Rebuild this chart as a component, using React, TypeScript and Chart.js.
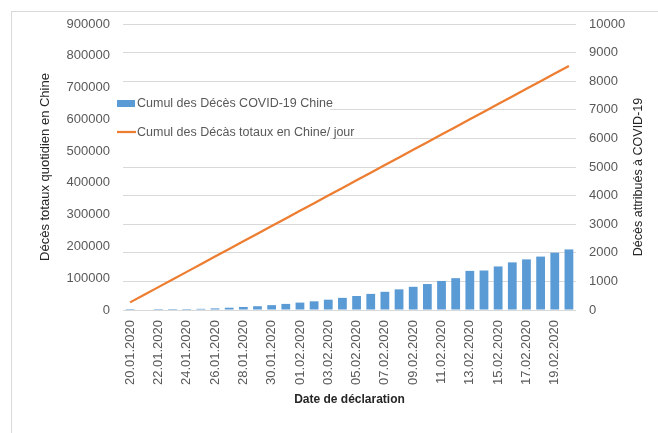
import React, { useEffect, useRef } from 'react';
import { Chart, registerables } from 'chart.js';

Chart.register(...registerables);

const dates: string[] = [
  '20.01.2020', '21.01.2020', '22.01.2020', '23.01.2020', '24.01.2020', '25.01.2020',
  '26.01.2020', '27.01.2020', '28.01.2020', '29.01.2020', '30.01.2020', '31.01.2020',
  '01.02.2020', '02.02.2020', '03.02.2020', '04.02.2020', '05.02.2020', '06.02.2020',
  '07.02.2020', '08.02.2020', '09.02.2020', '10.02.2020', '11.02.2020', '12.02.2020',
  '13.02.2020', '14.02.2020', '15.02.2020', '16.02.2020', '17.02.2020', '18.02.2020',
  '19.02.2020', '20.02.2020',
];

const covidDeaths: (number | null)[] = [
  4, null, 9, 17, 25, 41, 56, 80, 106, 132, 170, 213, 259, 304, 361, 425,
  490, 563, 636, 722, 811, 908, 1016, 1113, 1368, 1381, 1523, 1665, 1770, 1868, 2004, 2118,
];

const totalDeaths: number[] = [
  24000, 48000, 72000, 96000, 120000, 144000, 168000, 192000, 216000, 240000, 264000,
  288000, 312000, 336000, 360000, 384000, 408000, 432000, 456000, 480000, 504000,
  528000, 552000, 576000, 600000, 624000, 648000, 672000, 696000, 720000, 744000, 768000,
];

const barLabel = 'Cumul des Décès COVID-19 Chine';
const lineLabel = 'Cumul des Décàs totaux en Chine/ jour';
const leftTitle = 'Décès totaux quotidien en Chine';
const rightTitle = 'Décès attribués à COVID-19';
const xTitle = 'Date de déclaration';

const FONT = "'Liberation Sans', Arial, sans-serif";
const TICK = '#595959';
const TITLE = '#262626';

const legendPlugin = {
  id: 'insideLegend',
  beforeDatasetsDraw(chart: any) {
    const { ctx } = chart;
    ctx.save();
    ctx.fillStyle = '#ffffff';
    ctx.fillRect(115, 91, 215, 54);
    const ds = chart.data.datasets;
    ctx.font = `12.5px ${FONT}`;
    ctx.textBaseline = 'middle';
    ctx.textAlign = 'left';
    ctx.fillStyle = ds[0].backgroundColor;
    ctx.fillRect(117, 100, 18, 7);
    ctx.fillStyle = TICK;
    ctx.fillText(ds[0].label, 137, 104);
    ctx.strokeStyle = ds[1].borderColor;
    ctx.lineWidth = 2.25;
    ctx.beginPath();
    ctx.moveTo(117, 132);
    ctx.lineTo(136, 132);
    ctx.stroke();
    ctx.fillStyle = TICK;
    ctx.fillText(ds[1].label, 137, 133);
    ctx.restore();
  },
};

const rightTitlePlugin = {
  id: 'rightTitle',
  afterDraw(chart: any) {
    const s = chart.scales.y1;
    const { ctx } = chart;
    ctx.save();
    ctx.translate(s.right - 10, (s.top + s.bottom) / 2 + 10);
    ctx.rotate(-Math.PI / 2);
    ctx.font = `12.5px ${FONT}`;
    ctx.fillStyle = TITLE;
    ctx.textAlign = 'center';
    ctx.textBaseline = 'middle';
    ctx.fillText(rightTitle, 0, 0);
    ctx.restore();
  },
};

const plain = (v: any) => String(v);

export default function App() {
  const ref = useRef<HTMLCanvasElement>(null);

  useEffect(() => {
    if (!ref.current) return;
    const chart = new Chart(ref.current, {
      type: 'bar',
      data: {
        labels: dates,
        datasets: [
          {
            type: 'bar',
            label: barLabel,
            data: covidDeaths,
            backgroundColor: '#5B9BD5',
            yAxisID: 'y1',
            barPercentage: 0.62,
            categoryPercentage: 1,
            minBarLength: 1,
            order: 1,
          },
          {
            type: 'line',
            label: lineLabel,
            data: totalDeaths,
            borderColor: '#ED7D31',
            backgroundColor: '#ED7D31',
            borderWidth: 2.25,
            pointRadius: 0,
            tension: 0,
            yAxisID: 'y',
            order: 0,
          },
        ],
      } as any,
      options: {
        animation: false,
        responsive: false,
        maintainAspectRatio: false,
        layout: { padding: { left: 34, right: 9, top: 24, bottom: 22 } },
        plugins: { legend: { display: false }, tooltip: { enabled: false } },
        scales: {
          x: {
            grid: { display: false, drawTicks: false },
            border: { display: false },
            ticks: {
              autoSkip: false,
              minRotation: 90,
              maxRotation: 90,
              padding: 10,
              color: TICK,
              font: { family: FONT, size: 13 },
              callback: (_v: any, i: number) => (i % 2 === 0 ? dates[i] : ''),
            },
            title: {
              display: true,
              text: xTitle,
              color: TITLE,
              font: { family: FONT, size: 12, weight: 'bold' },
              padding: { top: 4, bottom: 4 },
            },
            afterFit: (s: any) => {
              s.height = 101;
            },
          },
          y: {
            position: 'left',
            min: 0,
            max: 900000,
            grid: { display: false, drawTicks: false },
            border: { display: false },
            ticks: {
              stepSize: 100000,
              padding: 13,
              color: TICK,
              font: { family: FONT, size: 13 },
              callback: plain,
            },
            title: {
              display: true,
              text: leftTitle,
              color: TITLE,
              font: { family: FONT, size: 13 },
              padding: { top: 4, bottom: 4 },
            },
            afterFit: (s: any) => {
              s.width = 89;
            },
          },
          y1: {
            position: 'right',
            min: 0,
            max: 10000,
            grid: { color: '#d9d9d9', lineWidth: 1, drawTicks: false },
            border: { display: false },
            ticks: {
              stepSize: 1000,
              padding: 13,
              color: TICK,
              font: { family: FONT, size: 13 },
              callback: plain,
            },
            afterFit: (s: any) => {
              s.width = 73;
            },
          },
        },
      } as any,
      plugins: [legendPlugin, rightTitlePlugin],
    });
    return () => chart.destroy();
  }, []);

  return (
    <div
      style={{
        position: 'fixed',
        left: 0,
        top: 0,
        width: 658,
        height: 433,
        overflow: 'hidden',
        background: '#ffffff',
      }}
    >
      <div
        style={{
          position: 'absolute',
          left: 11,
          top: 11,
          width: 700,
          height: 500,
          border: '1px solid #d9d9d9',
        }}
      />
      <canvas
        ref={ref}
        width={658}
        height={433}
        style={{ position: 'absolute', left: 0, top: 0, width: 658, height: 433 }}
      />
    </div>
  );
}
